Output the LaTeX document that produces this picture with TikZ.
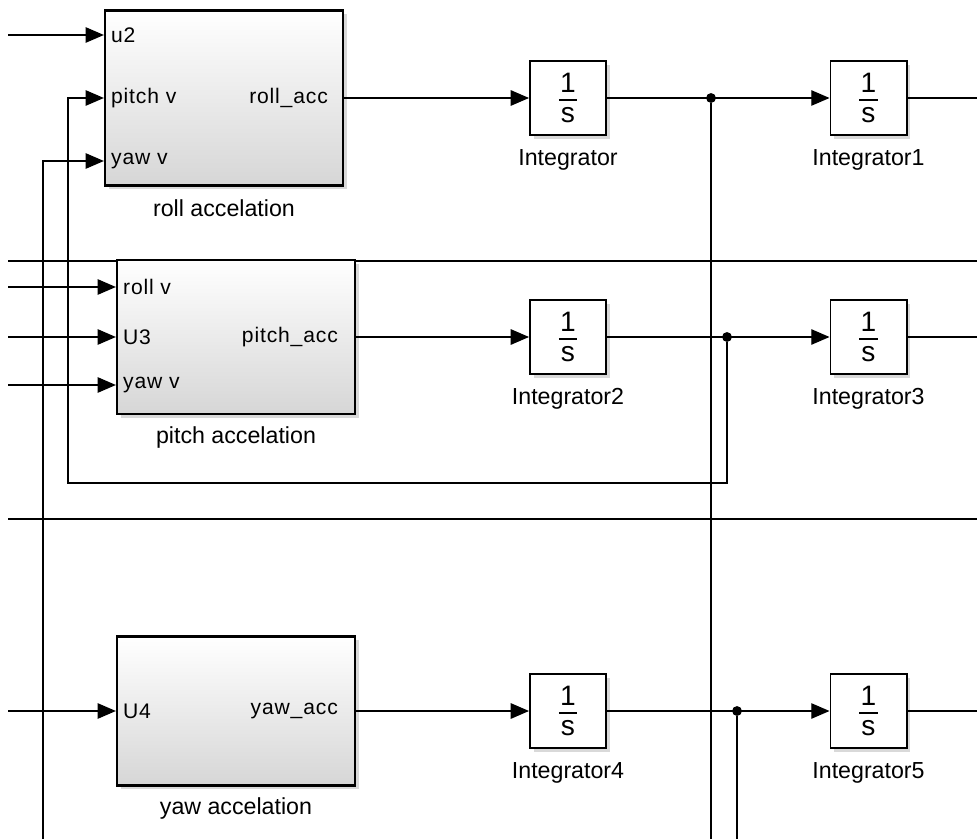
\documentclass[tikz,border=0pt]{standalone}
\usepackage{fontspec}
\setmainfont{Liberation Sans}
\newfontfamily\portfont[LetterSpace=4]{Liberation Sans}
\usetikzlibrary{arrows.meta, positioning, shadows}
\newlength{\pxu}\setlength{\pxu}{0.025cm}
\newcommand{\intfrac}{\vbox{\hbox to 13pt{\hss 1\hss}\kern 5pt\hrule height 0.9pt\kern 5pt\hbox to 13pt{\hss s\hss}}}

\begin{document}
\begin{tikzpicture}[x=0.025cm, y=-0.025cm,
  subsys/.style={draw, line width=1.6pt, top color=white, middle color=white, bottom color=black!16,
    drop shadow={shadow xshift=2.5pt, shadow yshift=-2.5pt, opacity=0.3},
    minimum width=238\pxu, inner sep=0pt},
  integ/.style={draw, line width=1.4pt, fill=white,
    drop shadow={shadow xshift=2.5pt, shadow yshift=-2.5pt, opacity=0.3},
    minimum width=76\pxu, minimum height=74\pxu, inner sep=0pt, font=\fontsize{20}{21}\selectfont},
  port/.style={font=\portfont\fontsize{15}{17}\selectfont, inner sep=0pt},
  lab/.style={font=\fontsize{16.5}{19}\selectfont, inner sep=0pt},
  wire/.style={line width=0.9pt},
  sig/.style={wire, -{Triangle[length=13pt, width=11pt]}},
  jdot/.style={circle, fill, inner sep=0pt, minimum size=7pt}
]
  \useasboundingbox (0,0) rectangle (977,839);

  % Free ends
  \coordinate (src-u2) at (8,35);
  \coordinate (src-rollv) at (8,287);
  \coordinate (src-u3) at (8,337);
  \coordinate (src-yawv) at (8,385);
  \coordinate (src-u4) at (8,711);
  \coordinate (yv-bot) at (43,839);
  \coordinate (fb-l) at (68,483);
  \coordinate (sep1-l) at (8,261);
  \coordinate (sep1-r) at (977,261);
  \coordinate (sep2-l) at (8,519);
  \coordinate (sep2-r) at (977,519);
  \coordinate (out1) at (977,98);
  \coordinate (out3) at (977,337);
  \coordinate (out5) at (977,711);

  % Separator lines
  \draw[wire] (sep1-l) -- (sep1-r);
  \draw[wire] (sep2-l) -- (sep2-r);

  % Subsystems
  \node[subsys, minimum height=175\pxu] (roll) at (224,98) {};
  \node[subsys, minimum height=154\pxu] (pitch) at (236,337) {};
  \node[subsys, minimum height=149\pxu] (yaw) at (236,711) {};

  % Ports
  \coordinate (roll-in1) at (roll.west |- 0,35);
  \coordinate (roll-in2) at (roll.west);
  \coordinate (roll-in3) at (roll.west |- 0,161);
  \coordinate (pitch-in1) at (pitch.west |- 0,287);
  \coordinate (pitch-in2) at (pitch.west);
  \coordinate (pitch-in3) at (pitch.west |- 0,385);
  \coordinate (yaw-in1) at (yaw.west);

  \node[port, anchor=west] (roll-p1) at ([xshift=7\pxu]roll-in1) {u2};
  \node[port, anchor=west] (roll-p2) at ([xshift=7\pxu]roll-in2) {pitch v};
  \node[port, anchor=west] (roll-p3) at ([xshift=7\pxu]roll-in3) {yaw v};
  \node[port, anchor=east] (roll-po) at ([xshift=-16\pxu]roll.east) {roll\_acc};

  \node[port, anchor=west] (pitch-p1) at ([xshift=7\pxu]pitch-in1) {roll v};
  \node[port, anchor=west] (pitch-p2) at ([xshift=7\pxu]pitch-in2) {U3};
  \node[port, anchor=west] (pitch-p3) at ([xshift=7\pxu]pitch-in3) {yaw v};
  \node[port, anchor=east] (pitch-po) at ([xshift=-18\pxu]pitch.east) {pitch\_acc};

  \node[port, anchor=west] (yaw-p1) at ([xshift=7\pxu]yaw-in1) {U4};
  \node[port, anchor=east] (yaw-po) at ([xshift=-18\pxu]yaw.east) {yaw\_acc};

  \node[lab] (roll-lab) at (224,208) {roll accelation};
  \node[lab] (pitch-lab) at (236,437) {pitch accelation};
  \node[lab] (yaw-lab) at (236,808) {yaw accelation};

  % Integrators
  \node[integ] (int0) at (568,98) {\intfrac};
  \node[integ] (int1) at (868.5,98) {\intfrac};
  \node[integ] (int2) at (568,337) {\intfrac};
  \node[integ] (int3) at (868.5,337) {\intfrac};
  \node[integ] (int4) at (568,711) {\intfrac};
  \node[integ] (int5) at (868.5,711) {\intfrac};

  \node[lab] (int0-lab) at (568,160) {Integrator};
  \node[lab] (int1-lab) at (868.5,160) {Integrator1};
  \node[lab] (int2-lab) at (568,399) {Integrator2};
  \node[lab] (int3-lab) at (868.5,399) {Integrator3};
  \node[lab] (int4-lab) at (568,773) {Integrator4};
  \node[lab] (int5-lab) at (868.5,773) {Integrator5};

  % Branch points
  \node[jdot] (j0) at (711,98) {};
  \node[jdot] (j1) at (727,337) {};
  \node[jdot] (j2) at (737,711) {};
  \coordinate (j0-bot) at (711,839);
  \coordinate (j2-bot) at (737,839);

  % Inputs
  \draw[sig] (src-u2) -- (roll-in1);
  \draw[sig] (yv-bot) |- (roll-in3);
  \draw[sig] (j1) |- (fb-l) |- (roll-in2);
  \draw[sig] (src-rollv) -- (pitch-in1);
  \draw[sig] (src-u3) -- (pitch-in2);
  \draw[sig] (src-yawv) -- (pitch-in3);
  \draw[sig] (src-u4) -- (yaw-in1);

  % Roll chain
  \draw[sig] (roll) -- (int0);
  \draw[sig] (int0) -- (int1);
  \draw[wire] (j0) -- (j0-bot);
  \draw[wire] (int1) -- (out1);

  % Pitch chain
  \draw[sig] (pitch) -- (int2);
  \draw[sig] (int2) -- (int3);
  \draw[wire] (int3) -- (out3);

  % Yaw chain
  \draw[sig] (yaw) -- (int4);
  \draw[sig] (int4) -- (int5);
  \draw[wire] (j2) -- (j2-bot);
  \draw[wire] (int5) -- (out5);
\end{tikzpicture}
\end{document}
